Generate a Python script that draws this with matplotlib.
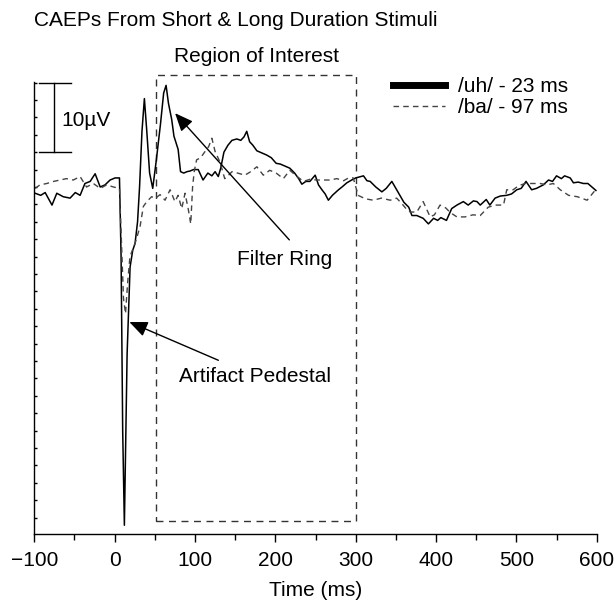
import numpy as np
import matplotlib
matplotlib.use("Agg")
import matplotlib.pyplot as plt
from matplotlib.lines import Line2D
from matplotlib.patches import Rectangle

plt.rcParams['font.family'] = ['Liberation Sans', 'DejaVu Sans']
plt.rcParams['lines.scale_dashes'] = False

# /uh/ - 23 ms response (time ms, amplitude uV)
uh_t = [-99, -92, -86.5, -78, -72, -64, -55.5, -49, -43, -37, -30.5, -24.3, -18, -12, -5.7, 0.5, 6,
        8, 10, 12.1, 15.5, 19.2, 22.5, 25.4, 28.5, 31, 34, 37, 40, 43.5, 47.4, 52, 57, 61, 64, 67,
        71, 73.8, 79, 82, 86, 90, 94, 98, 104, 110, 116, 121, 125, 129, 132, 136, 141, 146, 152,
        157, 161, 164.4, 168, 172, 177, 183, 189, 195, 201, 206, 212, 218, 224, 229, 233, 238, 243,
        249.6, 253.7, 258, 262, 266, 271, 278.6, 283, 289, 295, 300, 309.7, 314, 318, 325, 332.6,
        338, 345, 350, 355, 360, 366, 370, 376, 384, 390.5, 397, 402, 406, 413, 419.5, 426, 434,
        440, 446.5, 451, 455, 462.5, 467, 473.5, 480, 488, 494, 500.5, 506, 512, 519, 525, 533.5,
        540, 545, 550, 556, 560, 567, 571, 577, 583.5, 589, 596, 599]
uh_v = [-0.9, -1.2, -0.8, -2.6, -0.9, -1.4, -1.6, -0.8, -1.2, 0.5, 0.8, 1.9, 0.0, 0.3, 1.0, 1.3, 1.3,
        -10, -35, -48.6, -24, -11.5, -9.1, -8.1, -5, 0, 8, 12.7, 8, 2, -0.2, 4, 9, 13.5, 14.6, 12,
        9.7, 7.3, 5.4, 2.2, 2.0, 2.2, 2.3, 2.5, 2.5, 1.0, 2.0, 1.6, 2.2, 1.5, 2.7, 5.0, 6.0, 6.7, 6.9,
        6.7, 7.2, 8.0, 6.5, 6.0, 5.2, 4.9, 4.6, 4.2, 3.4, 3.3, 3.0, 2.7, 2.0, 1.2, 0.4, 0.8, 0.8,
        1.7, 0.3, -0.4, -1.0, -1.9, -1.2, -0.4, 0.0, 0.6, 1.0, 1.3, 1.6, 0.9, 0.8, 0.0, -0.7,
        -0.2, 0.8, -0.2, -1.2, -2.2, -2.9, -4.1, -4.1, -4.5, -5.3, -4.5, -4.8, -4.4, -4.8, -3.1, -2.6, -2.1,
        -2.6, -2.0, -2.1, -2.6, -1.8, -2.6, -1.6, -1.3, -1.2, -1.0, -0.4, -0.2, 0.8, -0.4, -0.2, 0.3,
        1.0, 0.8, 1.6, 1.2, 1.6, 1.3, 0.6, 0.7, 0.5, 0.5, -0.2, -0.5]

# /ba/ - 97 ms response
ba_t = [-99, -93, -84.5, -76, -68, -60, -51.5, -43, -35, -26.5, -18, -10, -1.5, 6, 8.5, 11, 13.5, 16,
        19, 25.4, 31.6, 35.7, 40, 46, 51, 56.5, 62.7, 69, 75, 79, 83.5, 87.6, 91.8, 94.7, 97, 99,
        102, 107, 112.5, 117, 121, 125, 131, 137, 141, 146, 153, 162, 168, 177, 185, 193, 201, 210,
        218, 226, 235, 243, 251.5, 260, 268, 276.5, 285, 291, 297, 303, 312, 322, 332, 343, 351,
        359, 364, 368, 376, 384, 392.7, 398, 405, 412, 418, 426, 436, 446, 455, 465, 474, 484, 488,
        496, 503, 511, 520, 529.7, 538, 546, 554.6, 565, 576, 588, 600]
ba_v = [-0.2, 0.3, 0.5, 0.8, 1.0, 1.2, 1.0, 1.5, 0.0, 0.5, -0.2, 0.3, 0.0, -0.2, -8, -16, -18.2, -14,
        -10, -8.1, -5.7, -2.8, -2.1, -1.4, -1.6, -1.1, -1.9, -0.4, -2.1, -1.2, -3.1, -0.9, -3.3, -5.3, 0.0, 2.2,
        3.9, 4.2, 5.1, 5.8, 7.0, 5.1, 3.6, 1.2, 1.6, 2.2, 2.0, 1.7, 2.1, 2.9, 1.7, 2.4, 2.0, 1.2,
        2.4, 1.6, 0.8, 1.1, 1.0, 1.0, 1.0, 1.2, 0.9, 1.3, 1.3, -1.2, -1.7, -1.9, -1.6, -1.9, -1.6,
        -2.6, -3.3, -3.6, -3.6, -2.1, -4.3, -4.0, -2.6, -3.0, -3.7, -4.3, -4.3, -4.0, -4.1, -2.9, -2.6, -2.6, -0.4,
        -0.4, 0.2, 0.5, 0.5, 0.5, 0.3, 0.5, -0.4, -1.2, -1.4, -1.9, -0.2]

roi = (52, 300, -48, 16.1)          # region of interest: t0, t1, v0, v1
scale_t, scale_lo, scale_hi = -75, 5, 15
cap_t = (-94, -54.6)

fig = plt.figure(figsize=(6.16, 6.01), dpi=100)
ax = fig.add_axes([0.0557, 0.111, 0.913, 0.7531])

ax.plot(uh_t, uh_v, color='black', lw=1.1)
ax.plot(ba_t, ba_v, color='#444444', lw=1.0, linestyle=(0, (4, 3)))

ax.add_patch(Rectangle((roi[0], roi[2]), roi[1] - roi[0], roi[3] - roi[2], fill=False,
                       ec='#333333', lw=1.0, linestyle=(0, (5, 4)), clip_on=False))
ax.text((roi[0] + roi[1]) / 2, 18.7, 'Region of Interest', ha='center', va='center', fontsize=15)

# scale bar
ax.plot([scale_t, scale_t], [scale_lo, scale_hi], color='black', lw=1.0)
ax.plot(cap_t, [scale_hi, scale_hi], color='black', lw=1.0)
ax.plot(cap_t, [scale_lo, scale_lo], color='black', lw=1.0)
ax.text(-65.8, 9.6, '10\u00b5V', ha='left', va='center', fontsize=15)

# annotations
arrow = dict(arrowstyle='-|>,head_length=1.1,head_width=0.47', mutation_scale=10,
             color='black', lw=1.0, shrinkA=0, shrinkB=0)
ax.annotate('', xy=(75.2, 10.6), xytext=(217.4, -7.6), arrowprops=arrow)
ax.text(211.5, -10.4, 'Filter Ring', ha='center', va='center', fontsize=15)
ax.annotate('', xy=(18.3, -19.4), xytext=(129.1, -24.9), arrowprops=arrow)
ax.text(174.8, -27.3, 'Artifact Pedestal', ha='center', va='center', fontsize=15)

handles = [Line2D([], [], color='black', lw=5),
           Line2D([], [], color='#444444', lw=1.0, linestyle=(0, (4, 3)))]
ax.legend(handles, ['/uh/ - 23 ms', '/ba/ - 97 ms'], loc='center left',
          bbox_to_anchor=(393 / 616, 1 - 97 / 601), bbox_transform=fig.transFigure,
          frameon=False, fontsize=15, handlelength=2.5, handletextpad=0.6,
          labelspacing=0.1, borderpad=0, borderaxespad=0)

ax.set_xlim(-100, 600)
ax.set_ylim(-49.9, 15.13)
ax.set_xticks(np.arange(-100, 601, 100))
ax.set_xticks(np.arange(-50, 600, 100), minor=True)
ax.set_xticklabels(['\u2212100', '0', '100', '200', '300', '400', '500', '600'])
ax.set_yticks(np.arange(-47.5, 15.1, 2.5))
ax.set_yticklabels([])
ax.tick_params(axis='x', which='major', direction='out', length=6, width=1.0, labelsize=15, pad=6)
ax.tick_params(axis='x', which='minor', direction='out', length=4, width=1.0)
ax.tick_params(axis='y', direction='in', length=2.5, width=1.0)
for s in ['top', 'right']:
    ax.spines[s].set_visible(False)
for s in ['left', 'bottom']:
    ax.spines[s].set_linewidth(1.0)
ax.set_xlabel('Time (ms)', fontsize=15, labelpad=8)

fig.text(34 / 616, 1 - 21 / 601, 'CAEPs From Short & Long Duration Stimuli', ha='left',
         va='center', fontsize=15)

fig.savefig('out.png', dpi=100)
